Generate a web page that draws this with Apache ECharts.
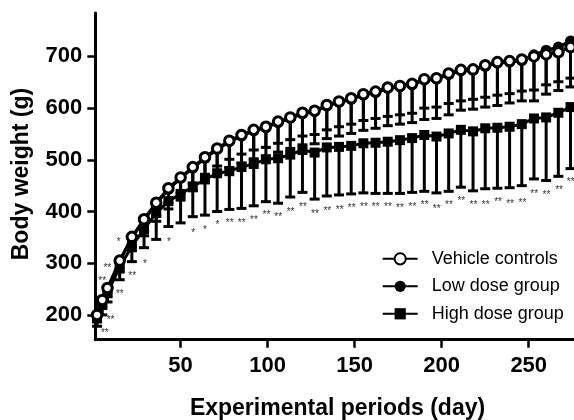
<!DOCTYPE html>
<html>
<head>
<meta charset="utf-8">
<script src="https://cdn.jsdelivr.net/npm/echarts@6/dist/echarts.min.js"></script>
<style>html,body{margin:0;padding:0;background:#fff}#c{width:574px;height:420px}</style>
</head>
<body>
<div id="c"></div>
<script>
const days = [2,5,8,15,22,29,36,43,50,57,64,71,78,85,92,99,106,113,120,127,134,141,148,155,162,169,176,183,190,197,204,211,218,225,232,239,246,253,260,267,274];
const vehicleMean = [200,229,252,305,351,385,417,445,466,486,505,522,537,548,558,564,574,582,591,595,606,613,619,627,632,640,643,647,656,658,667,674,675,683,689,691,694,700,704,708,718];
const vehicleSD = [5,8,10,14,18,22,25,28,30,31,33,34,36,37,39,40,42,43,45,46,48,49,50,51,52,56,56,57,56,56,58,60,58,62,64,63,61,65,59,57,60];
const lowMean = [198,227,250,303,349,383,415,443,464,484,503,520,535,546,556,562,572,580,589,593,604,611,617,625,630,638,641,645,654,656,665,672,673,681,687,689,692,703,712,718,730];
const lowSD = [8,12,15,20,25,30,34,38,42,44,46,48,50,52,54,55,57,58,60,62,63,65,66,68,69,72,72,73,76,76,78,76,75,79,82,79,78,89,85,84,89];
const highMean = [193,219,243,292,333,366,397,420,434,448,462,474,478,486,492,501,503,510,519,514,524,525,527,532,533,535,538,542,548,545,551,558,555,561,562,564,569,580,582,591,602];
const highSD = [15,19,18,24,30,36,51,49,56,58,69,74,74,80,81,82,87,82,82,90,94,93,93,96,98,100,103,105,109,109,112,111,115,117,117,118,119,117,122,123,119];

const sigDays = [6.5,9.8,15.1,5.0,7.9,22.2,14.5,29.5,43.3,57.3,64.0,71.1,78.2,85.1,92.1,99.3,106.1,113.2,120.3,127.2,134.3,141.4,148.3,155.3,162.1,169.1,176.0,183.2,190.2,197.1,204.2,211.3,218.2,225.3,232.4,239.3,246.4,253.1,260.2,267.4,274.1];
const sigValues = [169,194,245,269,295,279,346,303,346,363,368,378,382,382,388,397,393,403,413,400,406,408,411,414,413,413,411,413,416,410,417,424,416,417,422,419,421,438,437,445,461];
const sigLabels = ['**','**','**','**','**','**','*','*','*','*','*','*','**','**','**','**','**','**','**','**','**','**','**','**','**','**','**','**','**','**','**','**','**','**','**','**','**','**','**','**','**'];

const xTicks = [50,100,150,200,250];
const yTicks = [200,300,400,500,600,700];
const seriesNames = ['Vehicle controls','Low dose group','High dose group'];
const xTitle = 'Experimental periods (day)';
const yTitle = 'Body weight (g)';

const FF = '"Liberation Sans", Arial, Helvetica, sans-serif';

function errData(mean, sd){ return days.map((d,i)=>[d, mean[i], sd[i]]); }
function errRender(params, api){
  const x = api.value(0), m = api.value(1), s = api.value(2);
  const a = api.coord([x, m]);
  const b = api.coord([x, m - s]);
  const hw = 5;
  return {type:'group', children:[
    {type:'line', shape:{x1:a[0], y1:a[1], x2:b[0], y2:b[1]}, style:{stroke:'#000', lineWidth:3}},
    {type:'line', shape:{x1:b[0]-hw, y1:b[1], x2:b[0]+hw, y2:b[1]}, style:{stroke:'#000', lineWidth:3}}
  ]};
}
function sigRender(params, api){
  const p = api.coord([api.value(0), api.value(1)]);
  return {type:'text', x:p[0], y:p[1]+2.5, style:{text: sigLabels[params.dataIndex], fill:'#333', font:'10px ' + FF, align:'center', verticalAlign:'middle'}};
}

const chart = echarts.init(document.getElementById('c'), null, {renderer:'canvas'});
chart.setOption({
  animation:false,
  backgroundColor:'#fff',
  grid:{left:95.3, right:0, top:13, bottom:80.3, containLabel:false},
  xAxis:{
    type:'value', min:1, max:276,
    axisLine:{show:true, onZero:false, lineStyle:{color:'#000', width:3}},
    axisTick:{show:true, length:8, lineStyle:{color:'#000', width:2.5}, customValues:xTicks},
    axisLabel:{customValues:xTicks, fontSize:22, fontWeight:'bold', color:'#000', margin:15, fontFamily:FF},
    splitLine:{show:false}
  },
  yAxis:{
    type:'value', min:152, max:784,
    axisLine:{show:true, onZero:false, lineStyle:{color:'#000', width:3}},
    axisTick:{show:true, length:8, lineStyle:{color:'#000', width:2.5}, customValues:yTicks},
    axisLabel:{customValues:yTicks, fontSize:22, fontWeight:'bold', color:'#000', margin:13, fontFamily:FF},
    splitLine:{show:false}
  },
  legend:{
    orient:'vertical', left:376.7, top:244.8, itemWidth:35, itemHeight:14, itemGap:9.5,
    data:seriesNames,
    textStyle:{fontSize:18, color:'#000', fontFamily:FF, lineHeight:14, padding:[0,0,0,9]}
  },
  graphic:[
    {type:'text', x:337.5, y:409, style:{text:xTitle, font:'bold 23px ' + FF, fill:'#000', align:'center', verticalAlign:'middle'}},
    {type:'text', x:21.3, y:174, rotation:Math.PI/2, style:{text:yTitle, font:'bold 23px ' + FF, fill:'#000', align:'center', verticalAlign:'middle'}}
  ],
  series:[
    {type:'custom', name:'errHigh', z:1, renderItem:errRender, data:errData(highMean, highSD), encode:{x:0, y:1}, silent:true},
    {type:'custom', name:'errLow', z:1, renderItem:errRender, data:errData(lowMean, lowSD), encode:{x:0, y:1}, silent:true},
    {type:'custom', name:'errVeh', z:1, renderItem:errRender, data:errData(vehicleMean, vehicleSD), encode:{x:0, y:1}, silent:true},
    {type:'line', name:seriesNames[1], z:2, data:days.map((d,i)=>[d, lowMean[i]]), symbol:'circle', symbolSize:11,
      lineStyle:{color:'#000', width:3}, itemStyle:{color:'#000', borderColor:'#000', borderWidth:0}},
    {type:'line', name:seriesNames[2], z:3, data:days.map((d,i)=>[d, highMean[i]]), symbol:'rect', symbolSize:10,
      lineStyle:{color:'#000', width:3}, itemStyle:{color:'#000', borderColor:'#000', borderWidth:0}},
    {type:'line', name:seriesNames[0], z:4, data:days.map((d,i)=>[d, vehicleMean[i]]), symbol:'circle', symbolSize:9.5,
      lineStyle:{color:'#000', width:3}, itemStyle:{color:'#fff', borderColor:'#000', borderWidth:3}},
    {type:'custom', name:'sig', z:5, renderItem:sigRender, data:sigDays.map((d,i)=>[d, sigValues[i]]), encode:{x:0, y:1}, silent:true, clip:false}
  ]
});
</script>
</body>
</html>
